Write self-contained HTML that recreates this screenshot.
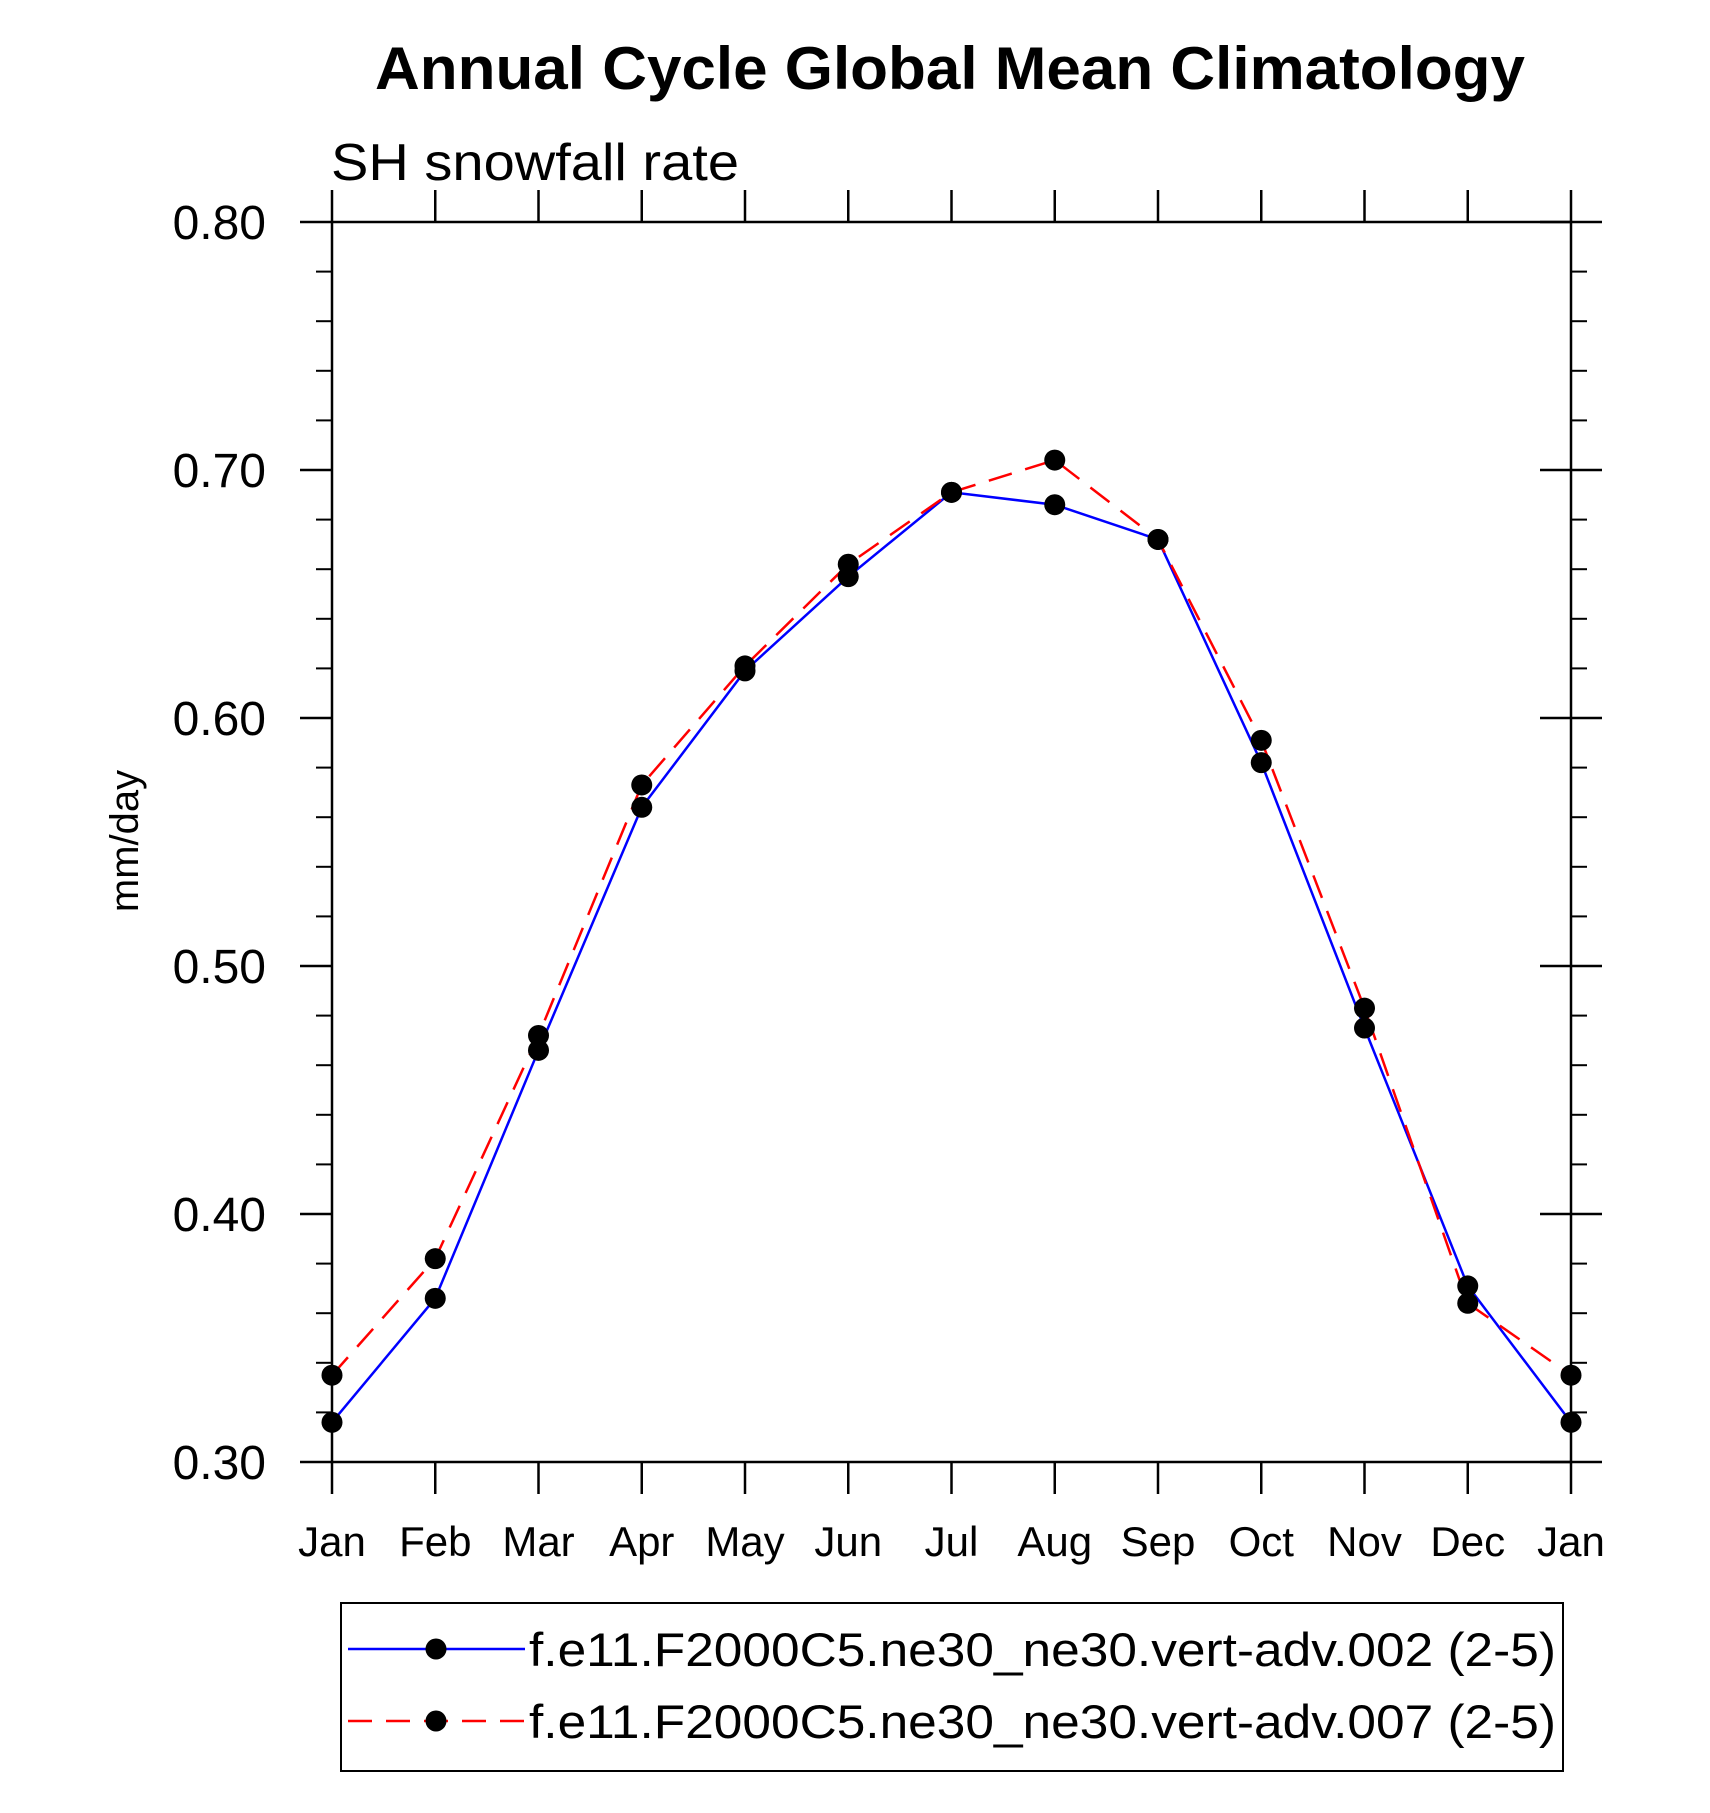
<!DOCTYPE html>
<html><head><meta charset="utf-8"><style>html,body{margin:0;padding:0;background:#fff}svg{display:block}</style></head>
<body>
<svg id="chart" width="1710" height="1813" viewBox="0 0 1710 1813" xmlns="http://www.w3.org/2000/svg" font-family="'Liberation Sans', Arial, sans-serif">
<text x="950" y="89" text-anchor="middle" font-size="60" font-weight="bold" textLength="1150" lengthAdjust="spacingAndGlyphs">Annual Cycle Global Mean Climatology</text>
<text x="331" y="180" font-size="52" textLength="408" lengthAdjust="spacingAndGlyphs">SH snowfall rate</text>
<text transform="translate(138,841) rotate(-90)" text-anchor="middle" font-size="40">mm/day</text>
<g id="axes"></g>
<g id="series"></g>
<g>
<rect x="341" y="1603" width="1222" height="168" fill="none" stroke="#000" stroke-width="2"/>
<g>
<line x1="348" y1="1649" x2="525" y2="1649" stroke="#0000ff" stroke-width="2.5"/>
<circle cx="436" cy="1649" r="10.5" fill="#000"/>
<text x="529" y="1666" font-size="47" textLength="1027" lengthAdjust="spacingAndGlyphs">f.e11.F2000C5.ne30_ne30.vert-adv.002 (2-5)</text>
</g>
<g>
<line x1="348" y1="1721" x2="525" y2="1721" stroke="#ff0000" stroke-width="2.5" stroke-dasharray="24,14"/>
<circle cx="436" cy="1721" r="10.5" fill="#000"/>
<text x="529" y="1738" font-size="47" textLength="1027" lengthAdjust="spacingAndGlyphs">f.e11.F2000C5.ne30_ne30.vert-adv.007 (2-5)</text>
</g>
</g>
</svg>
<script>
const months = ["Jan","Feb","Mar","Apr","May","Jun","Jul","Aug","Sep","Oct","Nov","Dec","Jan"];
const yTicks = [0.3,0.4,0.5,0.6,0.7,0.8];
const yTickLabels = ["0.30","0.40","0.50","0.60","0.70","0.80"];
const series002 = [0.316,0.366,0.466,0.564,0.619,0.657,0.691,0.686,0.672,0.582,0.475,0.371,0.316];
const series007 = [0.335,0.382,0.472,0.573,0.621,0.662,0.691,0.704,0.672,0.591,0.483,0.364,0.335];

const NS="http://www.w3.org/2000/svg";
const L=332,R=1571,T=222,B=1462,YMIN=0.3,YMAX=0.8;
const xs=i=>L+(R-L)*i/(months.length-1);
const ys=v=>B-(v-YMIN)/(YMAX-YMIN)*(B-T);
function mk(tag,attrs,parent){const e=document.createElementNS(NS,tag);for(const k in attrs)e.setAttribute(k,attrs[k]);parent.appendChild(e);return e;}
const ax=document.getElementById('axes');
const frame=mk('rect',{x:L,y:T,width:R-L,height:B-T,fill:'none',stroke:'#000','stroke-width':2.5},ax);


for(let k=0;k<=25;k++){const v=YMIN+k*0.02;const y=ys(v);
 if(k%5===0)continue;
 const t1=mk('line',{x1:L-16,y1:y,x2:L,y2:y,stroke:'#000','stroke-width':2},ax);
 
 
 const t2=mk('line',{x1:R,y1:y,x2:R+16,y2:y,stroke:'#000','stroke-width':2},ax);
 
 
}
yTicks.forEach((v,i)=>{const y=ys(v);
 const t1=mk('line',{x1:L-32,y1:y,x2:L,y2:y,stroke:'#000','stroke-width':2.5},ax);
 
 
 const t2=mk('line',{x1:R-31,y1:y,x2:R+31,y2:y,stroke:'#000','stroke-width':2.5},ax);
 
 
 const tx=mk('text',{x:L-66,y:y+17,'text-anchor':'end','font-size':48},ax);
 tx.textContent=yTickLabels[i];
 
 
});
months.forEach((m,i)=>{const x=xs(i);
 const t1=mk('line',{x1:x,y1:B,x2:x,y2:B+32,stroke:'#000','stroke-width':2.5},ax);
 
 
 const t2=mk('line',{x1:x,y1:T-32,x2:x,y2:T,stroke:'#000','stroke-width':2.5},ax);
 
 
 const tx=mk('text',{x:x,y:1556,'text-anchor':'middle','font-size':42},ax);
 tx.textContent=m;
 
 
});
const sg=document.getElementById('series');
function draw(data,color,dash,name){
 const pts=data.map((v,i)=>xs(i)+','+ys(v)).join(' ');
 const pl=mk('polyline',{points:pts,fill:'none',stroke:color,'stroke-width':2.5},sg);
 if(dash)pl.setAttribute('stroke-dasharray',dash);
 
 
}
function dots(data,name){
 data.forEach((v,i)=>{const c=mk('circle',{cx:xs(i),cy:ys(v),r:10.5,fill:'#000'},sg);
  
  });
}
draw(series002,'#0000ff',null,'series-002');
draw(series007,'#ff0000','24,14','series-007');
dots(series002,'series-002');
dots(series007,'series-007');
</script>
</body></html>
